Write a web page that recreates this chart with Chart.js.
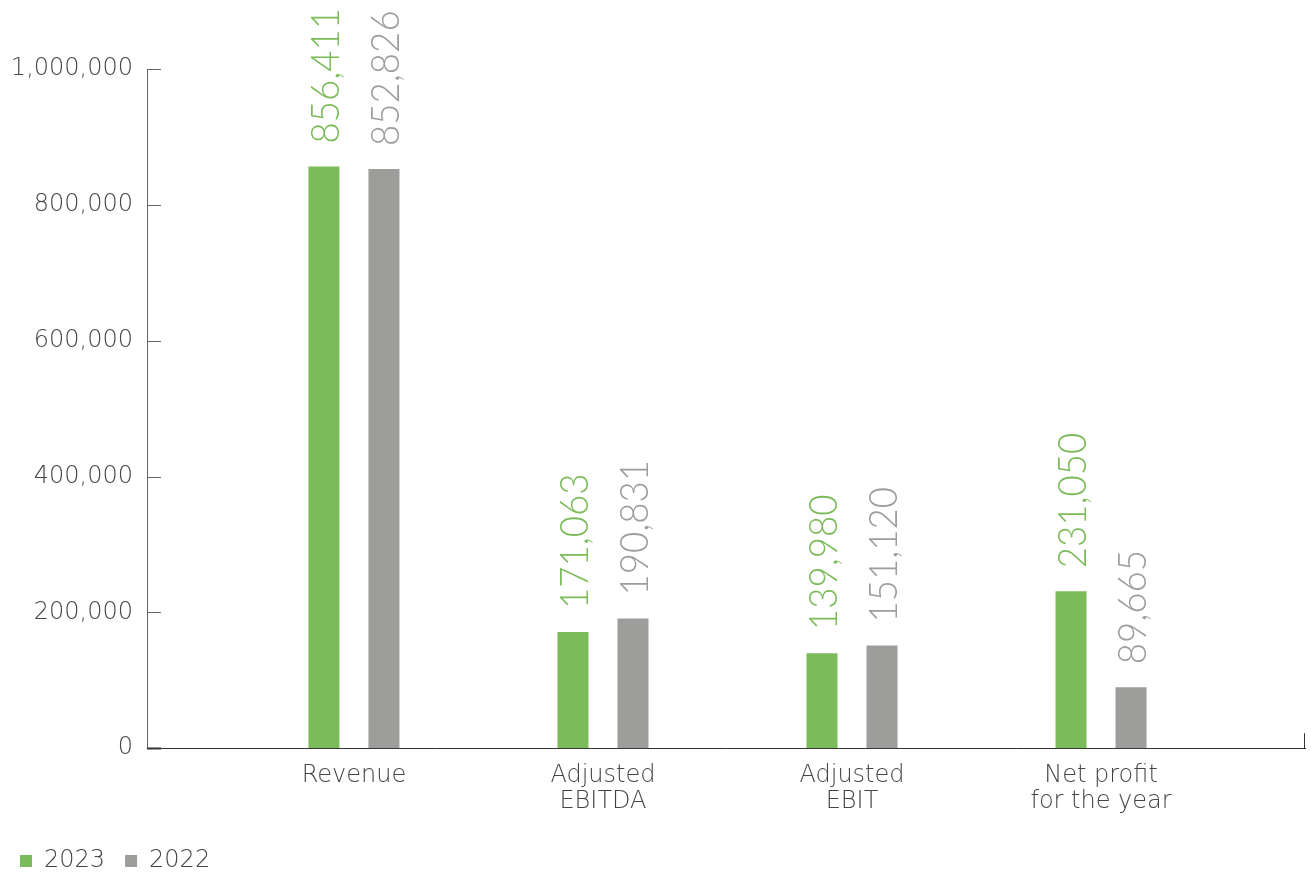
<!DOCTYPE html>
<html>
<head>
<meta charset="utf-8">
<script src="https://cdn.jsdelivr.net/npm/chart.js@4/dist/chart.umd.min.js"></script>
<style>
  html, body { margin: 0; padding: 0; background: #fff; overflow: hidden; }
  #wrap { width: 1311px; height: 883px; position: relative; }
</style>
</head>
<body>
<div id="wrap"><canvas id="chart"></canvas></div>
<script>
const categories = [['Revenue'], ['Adjusted', 'EBITDA'], ['Adjusted', 'EBIT'], ['Net profit', 'for the year']];
const values2023 = [856411, 171063, 139980, 231050];
const values2022 = [852826, 190831, 151120, 89665];
const yTicks = [0, 200000, 400000, 600000, 800000, 1000000];

const GREEN = '#7bbb5a';
const GREY = '#9d9d9c';
const TEXT = '#444';
const FONT = '"DejaVu Sans", Lato, sans-serif';
const VALUE_FONT = 'Lato, "Open Sans", sans-serif';

const toPoints = vals => vals.map((v, i) => ({ x: i + 1, y: v }));

// rotated value labels sitting above each bar
const barValues = {
  id: 'barValues',
  afterDatasetsDraw(chart) {
    const ctx = chart.ctx;
    chart.data.datasets.forEach((ds, di) => {
      const meta = chart.getDatasetMeta(di);
      meta.data.forEach((bar, i) => {
        ctx.save();
        ctx.translate(bar.x + 1, bar.y - 23);
        ctx.rotate(-Math.PI / 2);
        ctx.scale(0.94, 1);
        ctx.font = '300 39px ' + VALUE_FONT;
        ctx.fillStyle = ds.backgroundColor;
        ctx.textAlign = 'left';
        ctx.textBaseline = 'middle';
        ctx.fillText(ds.data[i].y.toLocaleString('en-US'), 0, 1);
        ctx.restore();
      });
    });
  }
};

// inward tick marks on the value axis and the end tick on the category axis
const axisMarks = {
  id: 'axisMarks',
  afterDraw(chart) {
    const { ctx, chartArea } = chart;
    const y = chart.scales.y;
    ctx.save();
    y.ticks.forEach(t => {
      const py = Math.round(y.getPixelForValue(t.value)) + 0.5;
      ctx.strokeStyle = t.value === 0 ? '#333' : '#666';
      ctx.lineWidth = t.value === 0 ? 2 : 1;
      ctx.beginPath();
      ctx.moveTo(chartArea.left, py);
      ctx.lineTo(chartArea.left + 14, py);
      ctx.stroke();
    });
    ctx.strokeStyle = '#333';
    ctx.lineWidth = 1;
    ctx.beginPath();
    ctx.moveTo(chartArea.right - 0.5, chartArea.bottom);
    ctx.lineTo(chartArea.right - 0.5, chartArea.bottom - 15);
    ctx.stroke();
    ctx.restore();
  }
};

new Chart(document.getElementById('chart'), {
  type: 'bar',
  data: {
    datasets: [
      { label: '2023', data: toPoints(values2023), backgroundColor: GREEN },
      { label: '2022', data: toPoints(values2022), backgroundColor: GREY }
    ]
  },
  options: {
    responsive: true,
    maintainAspectRatio: false,
    animation: false,
    categoryPercentage: 0.482,
    barPercentage: 0.517,
    layout: { padding: { top: 69, right: 6, left: 0, bottom: 0 } },
    scales: {
      x: {
        type: 'linear',
        offset: false,
        min: 0.169,
        max: 4.819,
        afterBuildTicks: scale => { scale.ticks = categories.map((c, i) => ({ value: i + 1 })); },
        grid: { display: false, drawTicks: false },
        border: { display: true, color: '#333', width: 1 },
        ticks: {
          padding: 14,
          color: TEXT,
          font: { family: FONT, size: 24, weight: 200, lineHeight: 1.1 },
          callback: v => categories[v - 1] || ''
        }
      },
      y: {
        min: 0,
        max: 1000000,
        afterBuildTicks: scale => { scale.ticks = yTicks.map(v => ({ value: v })); },
        afterFit: scale => { scale.width = 147; },
        grid: { display: false, drawTicks: false },
        border: { display: true, color: '#666', width: 1 },
        ticks: {
          padding: 14,
          color: TEXT,
          font: { family: FONT, size: 24, weight: 200 },
          callback: v => v.toLocaleString('en-US')
        }
      }
    },
    plugins: {
      legend: {
        position: 'bottom',
        align: 'start',
        labels: {
          boxWidth: 12,
          boxHeight: 12,
          padding: 20,
          color: TEXT,
          font: { family: FONT, size: 24, weight: 200 }
        }
      },
      tooltip: { enabled: false }
    }
  },
  plugins: [barValues, axisMarks]
});
</script>
</body>
</html>
